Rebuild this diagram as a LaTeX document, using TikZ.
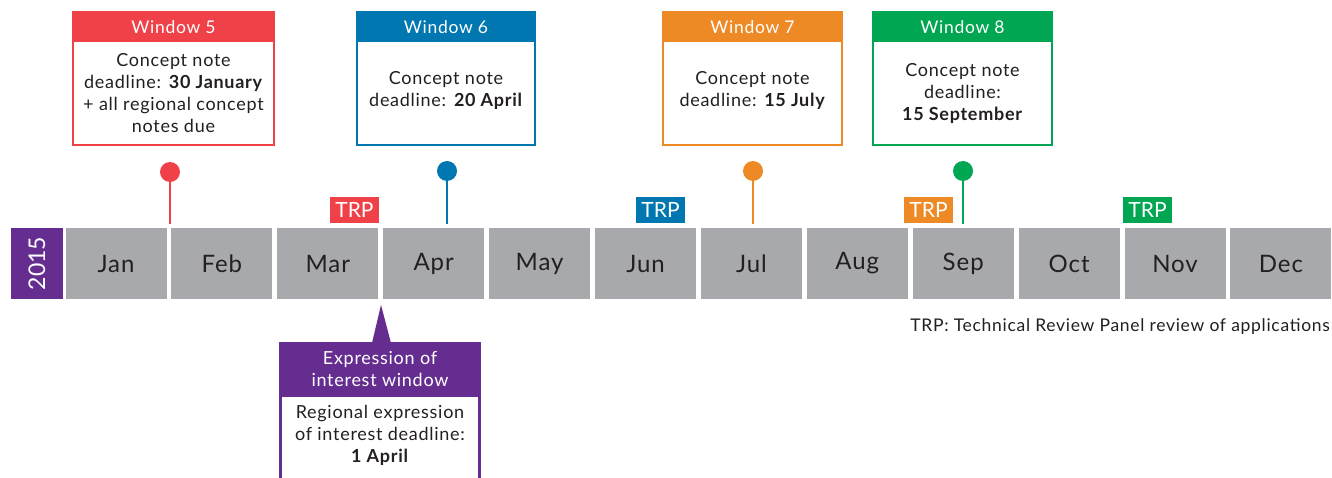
\documentclass[tikz,border=0pt]{standalone}
\usepackage{fontspec}
\setmainfont{Lato}[LetterSpace=4]
\newfontfamily\trpfont{Lato}
\definecolor{wred}{HTML}{EF4147}
\definecolor{wblue}{HTML}{0077B0}
\definecolor{worange}{HTML}{EE8A26}
\definecolor{wgreen}{HTML}{00A651}
\definecolor{wpurple}{HTML}{652D90}
\definecolor{mgrey}{HTML}{A7A9AC}
\definecolor{tdark}{HTML}{231F20}
\tikzset{
  month/.style={fill=mgrey, minimum width=101, minimum height=71, inner sep=0, text=tdark, font=\fontsize{24}{28}\selectfont},
  winframe/.style={draw=#1, line width=2, fill=white, inner sep=0},
  winhead/.style={fill=#1, inner sep=0, text=white, font=\fontsize{17.5}{21}\selectfont},
  wintext/.style={align=center, text=tdark, inner sep=0, font=\fontsize{18}{22}\selectfont},
  pinhead/.style={circle, fill=#1, minimum size=20, inner sep=0},
  pinline/.style={draw=#1, line width=2.6},
  trp/.style={fill=#1, text=white, minimum width=49, minimum height=26, inner sep=0, font=\trpfont\fontsize{21}{24}\selectfont},
}
\begin{document}
\begin{tikzpicture}[x=1pt,y=-1pt]
\useasboundingbox (0,0) rectangle (1332,478);
% year
\node[fill=wpurple, minimum width=52, minimum height=71, inner sep=0] (year) at (37,263.5) {};
\node[rotate=90, text=white, inner sep=0, font=\trpfont\fontsize{23}{26}\selectfont] (yeart) at (year.center) {2015};
% months
\foreach \m [count=\i from 0] in {Jan,Feb,Mar,Apr,May,Jun,Jul,Aug,Sep,Oct,Nov,Dec}{
  \node[month] (m\i) at ({116+\i*105.9},263.5) {\m};
}
% Window 5
\node[winframe=wred, minimum width=201, minimum height=133] (w5) at (173.5,78.5) {};
\node[winhead=wred, minimum width=203, minimum height=30] (w5h) at (173.5,27) {Window 5};
\node[wintext] (w5t) at (173.5,93) {Concept note\\deadline: \textbf{30 January}\\+ all regional concept\\notes due};
% Window 6
\node[winframe=wblue, minimum width=178, minimum height=133] (w6) at (446,78.5) {};
\node[winhead=wblue, minimum width=180, minimum height=30] (w6h) at (446,27) {Window 6};
\node[wintext] (w6t) at (446,90) {Concept note\\deadline: \textbf{20 April}};
% Window 7
\node[winframe=worange, minimum width=179, minimum height=133] (w7) at (752.5,78.5) {};
\node[winhead=worange, minimum width=181, minimum height=30] (w7h) at (752.5,27) {Window 7};
\node[wintext] (w7t) at (752.5,90) {Concept note\\deadline: \textbf{15 July}};
% Window 8
\node[winframe=wgreen, minimum width=179, minimum height=133] (w8) at (962.5,78.5) {};
\node[winhead=wgreen, minimum width=181, minimum height=30] (w8h) at (962.5,27) {Window 8};
\node[wintext] (w8t) at (962.5,93) {Concept note\\deadline:\\\textbf{15 September}};
% pins
\node[pinhead=wred] (p5) at (170,172) {};
\coordinate (p5e) at (170,224);
\draw[pinline=wred] (p5.center) -- (p5e);
\node[pinhead=wblue] (p6) at (447,171) {};
\coordinate (p6e) at (447,224);
\draw[pinline=wblue] (p6.center) -- (p6e);
\node[pinhead=worange] (p7) at (753,171) {};
\coordinate (p7e) at (753,224);
\draw[pinline=worange] (p7.center) -- (p7e);
\node[pinhead=wgreen] (p8) at (963,171) {};
\coordinate (p8e) at (963,224);
\draw[pinline=wgreen] (p8.center) -- (p8e);
% TRP labels
\node[trp=wred] (t1) at (354.5,210) {TRP};
\node[trp=wblue] (t2) at (660.5,210) {TRP};
\node[trp=worange] (t3) at (928.5,210) {TRP};
\node[trp=wgreen] (t4) at (1147.5,210) {TRP};
% legend
\node[anchor=east, inner sep=0, text=tdark, font=\fontsize{17.5}{20}\selectfont] (leg) at (1330,327) {TRP: Technical Review Panel review of applications};
% Expression of interest
\fill[wpurple] (372,343) -- (381,305) -- (391,343) -- cycle;
\draw[wpurple, line width=3] (280.5,478) -- (280.5,343.5) -- (479.5,343.5) -- (479.5,478);
\node[fill=wpurple, minimum width=202, minimum height=55, inner sep=0] (eh) at (380,369.5) {};
\node[wintext, text=white] (eht) at (380,369.5) {Expression of\\interest window};
\node[wintext] (ebt) at (380,435) {Regional expression\\of interest deadline:\\\textbf{1 April}};
\end{tikzpicture}
\end{document}
